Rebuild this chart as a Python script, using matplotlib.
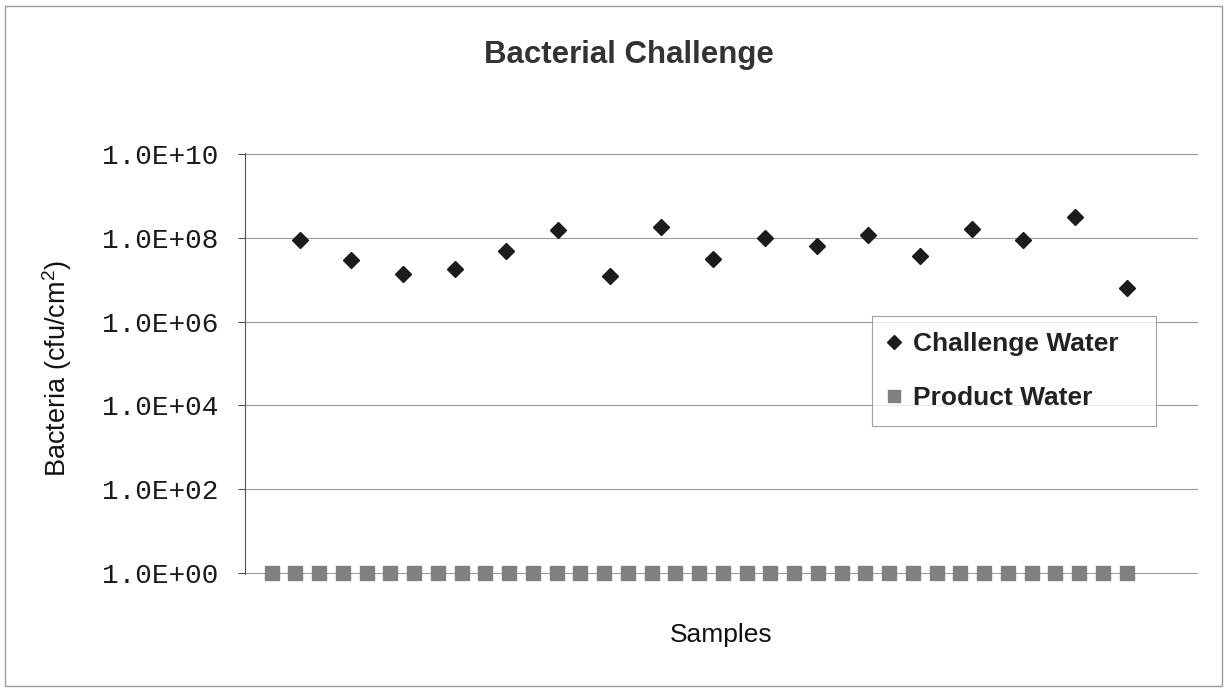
import matplotlib
matplotlib.use("Agg")
import matplotlib.pyplot as plt
from matplotlib.patches import Rectangle
from matplotlib.ticker import NullLocator

plt.rcParams['font.family'] = ['Liberation Sans', 'DejaVu Sans']
plt.rcParams['mathtext.fontset'] = 'custom'
plt.rcParams['mathtext.rm'] = 'Liberation Sans'

# data
challenge_x = [2.18, 4.35, 6.53, 8.71, 10.88, 13.06, 15.24, 17.41, 19.59,
               21.76, 23.94, 26.12, 28.29, 30.47, 32.65, 34.82, 37.0]
challenge_y = [8.7e7, 3.0e7, 1.4e7, 1.8e7, 4.8e7, 1.56e8, 1.2e7, 1.8e8, 3.1e7,
               1.0e8, 6.5e7, 1.17e8, 3.6e7, 1.6e8, 8.7e7, 3.2e8, 6.2e6]
product_x = list(range(1, 38))
product_y = [1.0] * 37

ytick_values = [1, 1e2, 1e4, 1e6, 1e8, 1e10]
ytick_labels = ['1.0E+00', '1.0E+02', '1.0E+04', '1.0E+06', '1.0E+08', '1.0E+10']

W, H = 1227, 689
fig = plt.figure(figsize=(W / 100, H / 100), dpi=100)
ax = fig.add_axes([245 / W, 1 - 574 / H, (1198 - 245) / W, (574 - 153) / H])

ax.plot(product_x, product_y, linestyle='none', marker='s', markersize=9.4,
        color='#808080', label='Product Water', clip_on=False, zorder=3)
ax.plot(challenge_x, challenge_y, linestyle='none', marker='D', markersize=8.5,
        color='#1c1c1c', label='Challenge Water', zorder=4)

ax.set_yscale('log')
ax.set_ylim(0.95, 1.05e10)
ax.set_xlim(-0.12, 40)
ax.set_yticks(ytick_values)
ax.set_yticklabels(ytick_labels, fontfamily='Liberation Mono', fontsize=20, color='#1a1a1a')
ax.yaxis.set_minor_locator(NullLocator())
ax.set_xticks([])
ax.tick_params(axis='y', length=5, width=0.8, color='#555555', pad=14)
ax.grid(True, axis='y', color='#9a9a9a', linewidth=0.8)
ax.set_axisbelow(True)
for side in ['top', 'right', 'bottom']:
    ax.spines[side].set_visible(False)
ax.spines['left'].set_color('#555555')
ax.spines['left'].set_linewidth(0.8)

fig.text(629 / W, 1 - 62.7 / H, 'Bacterial Challenge', ha='center', va='baseline',
         fontsize=22.5, fontweight='bold', color='#333333')
fig.text(721 / W, 1 - 641.7 / H, 'Samples', ha='center', va='baseline',
         fontsize=19, color='#111111')
fig.text(57 / W, 1 - 369 / H, r'Bacteria (cfu/cm$^{2}$)', ha='center', va='center',
         rotation=90, fontsize=19.5, color='#111111')

handles, labels = ax.get_legend_handles_labels()
labels = [lab + '   ' for lab in labels]
leg = ax.legend(handles[::-1], labels[::-1], loc='upper left',
                bbox_to_anchor=(872 / W, 1 - 316 / H), bbox_transform=fig.transFigure,
                borderaxespad=0, frameon=True, fancybox=False, shadow=False,
                prop={'size': 19, 'weight': 'bold'}, handlelength=0.5,
                handletextpad=0.45, labelspacing=1.15, borderpad=0.6,
                markerscale=0.85)
leg.get_frame().set_edgecolor('#8a8a8a')
leg.get_frame().set_linewidth(0.8)
for t in leg.get_texts():
    t.set_color('#222222')

fig.patches.append(Rectangle((5 / W, 1 - 686 / H), (1222 - 5) / W, (686 - 6) / H,
                             transform=fig.transFigure, fill=False,
                             edgecolor='#9a9a9a', linewidth=1))

fig.savefig('out.png', dpi=100)
